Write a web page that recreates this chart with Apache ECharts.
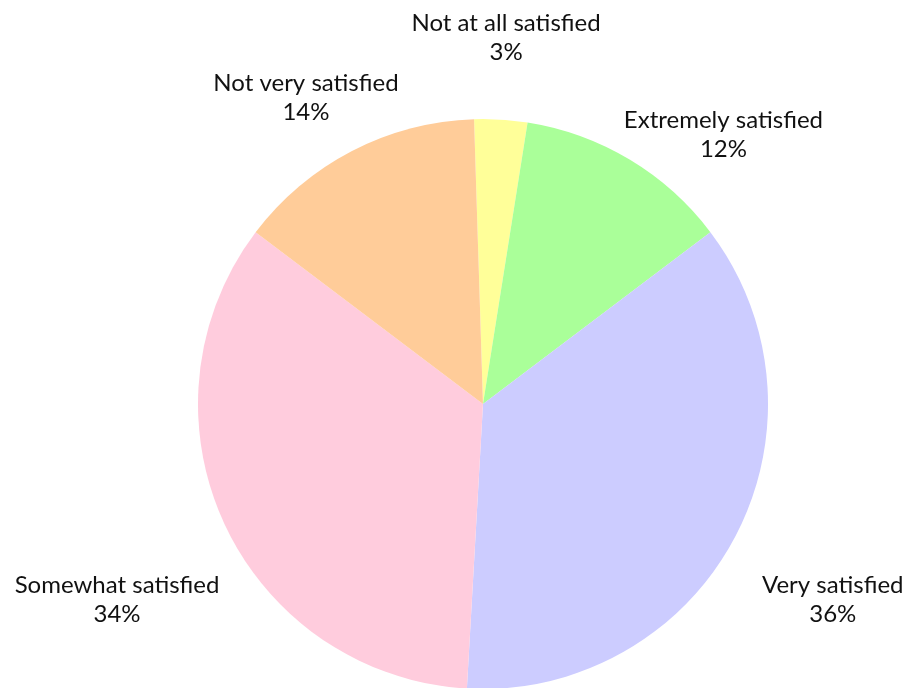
<!DOCTYPE html>
<html>
<head>
<meta charset="utf-8">
<script src="https://cdn.jsdelivr.net/npm/echarts@6/dist/echarts.min.js"></script>
<style>
html,body{margin:0;padding:0;background:#fff;}
#chart{width:909px;height:688px;}
</style>
</head>
<body>
<div id="chart"></div>
<script>
// ---- data ----
var categories = ['Not at all satisfied', 'Extremely satisfied', 'Very satisfied', 'Somewhat satisfied', 'Not very satisfied'];
var values = [3.0, 12.2, 36.2, 34.4, 14.2];
var colors = ['#ffff99', '#aaff99', '#ccccff', '#ffccdd', '#ffcc99'];

// ---- layout (styles, not data) ----
var CX = 483, CY = 404, R = 285, START = 91.8;
var labelRadius = [367, 361, 401, 415, 354];
var labelAngleShift = [0, 10.8, 1.2, -3.3, -2.65];

var total = values.reduce(function (a, b) { return a + b; }, 0);
function midAngle(i) {
  // degrees clockwise from 12 o'clock, following the pie's own layout
  var before = 0;
  for (var k = 0; k < i; k++) before += values[k];
  var startFromTop = 90 - START;
  return startFromTop + (before + values[i] / 2) / total * 360;
}

var chart = echarts.init(document.getElementById('chart'), null, {renderer: 'canvas'});
chart.setOption({
  animation: false,
  backgroundColor: '#ffffff',
  series: [{
    type: 'pie',
    center: [CX, CY],
    radius: R,
    startAngle: START,
    clockwise: true,
    avoidLabelOverlap: false,
    itemStyle: {borderWidth: 0},
    emphasis: {disabled: true},
    data: categories.map(function (c, i) {
      return {name: c, value: values[i], itemStyle: {color: colors[i]}};
    }),
    label: {
      show: true,
      position: 'outside',
      formatter: function (p) {
        return '{a|' + p.name + '}\n{a|' + Math.round(p.percent) + '%}';
      },
      rich: {
        a: {fontFamily: 'Lato', fontSize: 24, lineHeight: 29, color: '#111111', align: 'center'}
      }
    },
    labelLine: {show: false},
    labelLayout: function (params) {
      var i = params.dataIndex;
      var a = (midAngle(i) + labelAngleShift[i]) * Math.PI / 180;
      return {
        x: CX + labelRadius[i] * Math.sin(a),
        y: CY - labelRadius[i] * Math.cos(a),
        align: 'center',
        verticalAlign: 'middle'
      };
    }
  }]
});
</script>
</body>
</html>
